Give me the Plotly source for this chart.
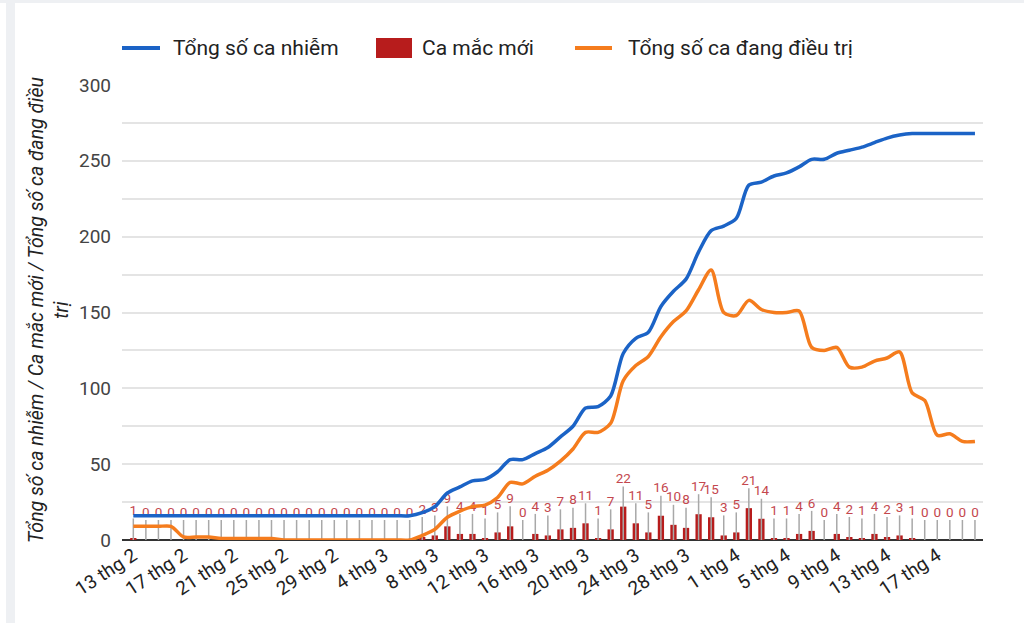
import plotly.graph_objects as go
import pandas as pd

# ---------------- data ----------------
dates = pd.date_range("2020-02-13", "2020-04-20", freq="D")

new_cases = [1, 0, 0, 0, 0, 0, 0, 0, 0, 0, 0, 0, 0, 0, 0, 0, 0, 0, 0, 0, 0, 0, 0,
             2, 3, 9, 4, 4, 1, 5, 9, 0, 4, 3, 7, 8, 11, 1, 7, 22, 11, 5, 16, 10, 8,
             17, 15, 3, 5, 21, 14, 1, 1, 4, 6, 0, 4, 2, 1, 4, 2, 3, 1, 0, 0, 0, 0, 0]

total_cases = [16, 16, 16, 16, 16, 16, 16, 16, 16, 16, 16, 16, 16, 16, 16, 16, 16, 16, 16, 16, 16, 16, 16,
               18, 22, 31, 35, 39, 40, 45, 53, 53, 57, 61, 68, 75, 87, 88, 95, 123, 133, 137, 154, 164, 172,
               190, 204, 207, 212, 234, 236, 240, 242, 246, 251, 251, 255, 257, 259, 262, 265, 267, 268,
               268, 268, 268, 268, 268]

active_cases = [9, 9, 9, 9, 2, 2, 2, 1, 1, 1, 1, 1, 0, 0, 0, 0, 0, 0, 0, 0, 0, 0, 0,
                3, 7, 15, 19, 22, 23, 28, 38, 37, 42, 46, 52, 60, 71, 71, 77, 105, 115, 121, 134, 144, 151,
                165, 178, 150, 148, 158, 152, 150, 150, 151, 127, 125, 127, 114, 114, 118, 120, 124, 97,
                92, 69, 70, 65, 65]

tick_dates = pd.date_range("2020-02-13", "2020-04-17", freq="4D")
tick_labels = [f"{d.day} thg {d.month}" for d in tick_dates]

y_ticks = [0, 50, 100, 150, 200, 250, 300]
y_minor = [25, 75, 125, 175, 225, 275]

series_names = ["Tổng số ca nhiễm", "Ca mắc mới", "Tổng số ca đang điều trị"]
y_title = "Tổng số ca nhiễm / Ca mắc mới / Tổng số ca đang điều<br>trị"

# ---------------- style ----------------
FONT = "Roboto"
BLUE = "#1b63c6"
ORANGE = "#f57c1d"
RED = "#b71c1c"
LABEL_RED = "#c4474e"
STEM_GREY = "#a8a8a8"
GRID = "#e4e4e4"
STEM = 13.2  # stem length above bar top, in axis units (~20px)

# plot area in pixels: x 122..983, y 85..540
PL, PR, PT, PB = 122, 983, 85, 540
def px_x(px):
    return (px - PL) / (PR - PL)
def px_y(py):
    return (PB - py) / (PB - PT)

fig = go.Figure()

# annotation stems
stem_x, stem_y = [], []
for d, v in zip(dates, new_cases):
    stem_x += [d, d, None]
    stem_y += [0, v + STEM, None]
fig.add_trace(go.Scatter(x=stem_x, y=stem_y, mode="lines",
                         line=dict(color=STEM_GREY, width=1.5),
                         hoverinfo="skip", showlegend=False))

fig.add_trace(go.Bar(x=dates, y=new_cases, name=series_names[1],
                     marker=dict(color=RED, line=dict(width=0)),
                     showlegend=False))

fig.add_trace(go.Scatter(x=dates, y=[v + STEM for v in new_cases], mode="text",
                         text=[str(v) for v in new_cases], textposition="top center",
                         textfont=dict(family=FONT, size=13.5, color=LABEL_RED),
                         hoverinfo="skip", showlegend=False))

fig.add_trace(go.Scatter(x=dates, y=total_cases, mode="lines", name=series_names[0],
                         line=dict(color=BLUE, width=3.5, shape="spline", smoothing=0.8),
                         showlegend=False))
fig.add_trace(go.Scatter(x=dates, y=active_cases, mode="lines", name=series_names[2],
                         line=dict(color=ORANGE, width=3.5, shape="spline", smoothing=0.8),
                         showlegend=False))

x0 = dates[0] - pd.Timedelta(hours=0.9 * 24)
x1 = dates[0] + pd.Timedelta(hours=67.64 * 24)

shapes = [
    # page frame strips
    dict(type="rect", xref="paper", yref="paper", x0=px_x(6), x1=px_x(15),
         y0=px_y(623), y1=px_y(0), fillcolor="#eef0f3", line=dict(width=0), layer="below"),
    dict(type="rect", xref="paper", yref="paper", x0=px_x(0), x1=px_x(1024),
         y0=px_y(3), y1=px_y(0), fillcolor="#eef0f3", line=dict(width=0), layer="below"),
    # legend symbols
    dict(type="line", xref="paper", yref="paper", x0=px_x(122), x1=px_x(160),
         y0=px_y(48), y1=px_y(48), line=dict(color=BLUE, width=4)),
    dict(type="rect", xref="paper", yref="paper", x0=px_x(376), x1=px_x(412),
         y0=px_y(58), y1=px_y(38), fillcolor=RED, line=dict(width=0)),
    dict(type="line", xref="paper", yref="paper", x0=px_x(575), x1=px_x(612),
         y0=px_y(48), y1=px_y(48), line=dict(color=ORANGE, width=4)),
]

annotations = [
    dict(xref="paper", yref="paper", x=px_x(171), y=px_y(48), text=series_names[0],
         showarrow=False, xanchor="left", yanchor="middle",
         font=dict(family=FONT, size=21, color="#222")),
    dict(xref="paper", yref="paper", x=px_x(420), y=px_y(48), text=series_names[1],
         showarrow=False, xanchor="left", yanchor="middle",
         font=dict(family=FONT, size=21, color="#222")),
    dict(xref="paper", yref="paper", x=px_x(626), y=px_y(48), text=series_names[2],
         showarrow=False, xanchor="left", yanchor="middle",
         font=dict(family=FONT, size=21, color="#222")),
    dict(xref="paper", yref="paper", x=px_x(49), y=px_y(310), text=y_title,
         showarrow=False, textangle=-90, xanchor="center", yanchor="middle", align="center",
         font=dict(family=FONT, size=19.5, color="#222", style="italic")),
]

fig.update_layout(
    width=1024, height=623, autosize=False,
    margin=dict(l=PL, r=1024 - PR, t=PT, b=623 - PB),
    paper_bgcolor="white", plot_bgcolor="white",
    font=dict(family=FONT),
    bargap=0.5,
    shapes=shapes, annotations=annotations,
    xaxis=dict(type="date", range=[x0, x1], tickvals=list(tick_dates), ticktext=tick_labels,
               tickangle=-33, tickfont=dict(family=FONT, size=19, color="#222"),
               showgrid=False, showline=False, ticks="", zeroline=False),
    yaxis=dict(range=[0, 300], tickvals=y_ticks, showgrid=True, gridcolor=GRID, gridwidth=1.5,
               minor=dict(tickvals=y_minor, showgrid=True, gridcolor=GRID, gridwidth=1.5),
               zeroline=True, zerolinecolor="#333", zerolinewidth=2,
               tickfont=dict(family=FONT, size=19, color="#444"), ticks="",
               ticklabelstandoff=10, showline=False),
)

fig.write_html("out.html", config={"displayModeBar": False},
               post_script="document.body.style.margin='0';")
